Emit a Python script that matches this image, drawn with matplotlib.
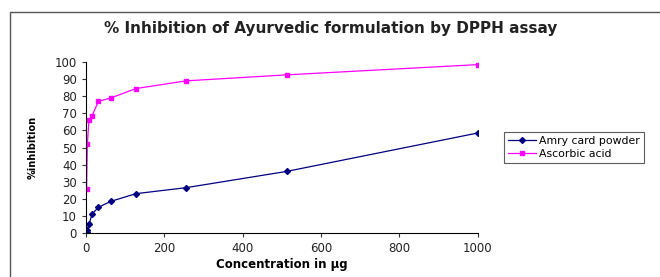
import matplotlib.pyplot as plt
from matplotlib.patches import Rectangle

plt.rcParams['font.family'] = ['DejaVu Sans']

conc = [2, 4, 8, 16, 32, 64, 128, 256, 512, 1000]
amry = [0.5, 1.5, 5, 11, 15, 18.5, 23, 26.5, 36, 58.5]
ascorbic = [26, 52, 66, 68.5, 77, 79, 84.5, 89, 92.5, 98.5]

fig = plt.figure(figsize=(6.6, 2.77), dpi=100)
# chart border like excel
fig.patches.append(Rectangle((10 / 660, -0.05), 1.0, 1 - 12 / 277 + 0.05,
                             transform=fig.transFigure, fill=False,
                             edgecolor='#555555', linewidth=1.0))

ax = fig.add_axes([0.130, 0.159, 0.594, 0.617])
ax.plot(conc, amry, color='#000080', marker='D', markersize=3, linewidth=0.9,
        label='Amry card powder')
ax.plot(conc, ascorbic, color='#FF00FF', marker='s', markersize=3.5, linewidth=0.9,
        label='Ascorbic acid')

ax.set_xlim(0, 1000)
ax.set_ylim(0, 100)
ax.set_xticks(range(0, 1001, 200))
ax.set_yticks(range(0, 101, 10))
ax.spines['top'].set_visible(False)
ax.spines['right'].set_visible(False)
ax.tick_params(labelsize=8.5, length=3, width=0.8, color='#333333', labelcolor='#222222')
ax.set_xlabel('Concentration in µg', fontsize=8.5, fontweight='bold', labelpad=2)
ax.set_ylabel('%inhibition', fontsize=7, fontweight='bold', labelpad=12)

fig.text(331 / 660, 1 - 28 / 277, '% Inhibition of Ayurvedic formulation by DPPH assay',
         ha='center', va='center', fontsize=11, fontweight='bold', color='#222222')

leg = fig.legend(loc='upper left', bbox_to_anchor=(504 / 660, 1 - 132 / 277),
                 fontsize=7.8, frameon=True, fancybox=False, edgecolor='#333333',
                 borderpad=0.35, handlelength=2.6, labelspacing=0.3, handletextpad=0.3,
                 borderaxespad=0)
leg.get_frame().set_linewidth(0.8)

fig.savefig('out.png', dpi=100)
